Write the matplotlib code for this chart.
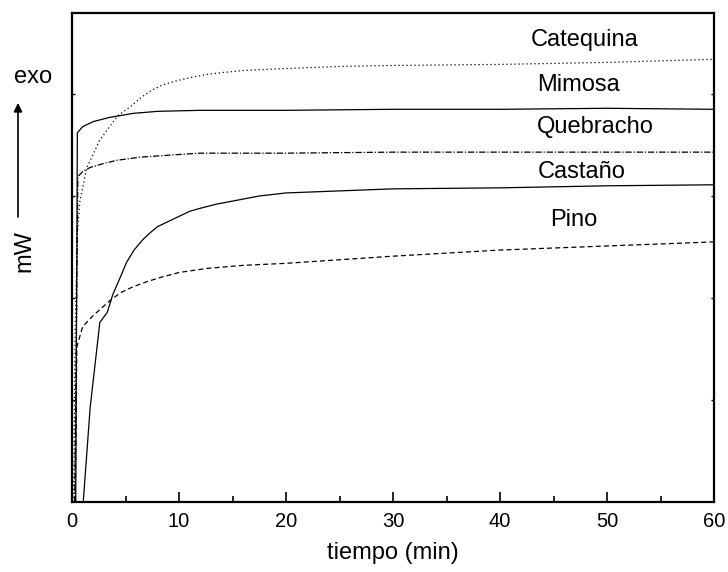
import matplotlib
matplotlib.use("Agg")
import matplotlib.pyplot as plt

plt.rcParams['font.family'] = ['Liberation Sans', 'DejaVu Sans']

# ---- data (time in min, signal in arbitrary mW units) ----
cat_t = [0.15, 0.3, 0.5, 0.75, 1.4, 2.6, 4.3, 5.4, 6.5, 7.5, 8.5, 9.8, 11, 12.5, 14, 16, 18, 20, 25, 30, 40, 50, 60]
cat_y = [0.0, 1.69, 2.64, 2.96, 3.28, 3.55, 3.79, 3.87, 3.97, 4.04, 4.09, 4.13, 4.16, 4.19, 4.21, 4.23, 4.24, 4.25, 4.27, 4.28, 4.29, 4.31, 4.34]

mim_t = [0.35, 0.5, 1.0, 2.0, 3.5, 5.7, 8, 12, 20, 30, 40, 50, 60]
mim_y = [0.0, 3.62, 3.68, 3.73, 3.77, 3.81, 3.83, 3.84, 3.84, 3.85, 3.85, 3.86, 3.85]

que_t = [0.25, 0.55, 1.0, 1.7, 3.0, 4.2, 6.3, 9, 12, 20, 30, 60]
que_y = [0.0, 3.19, 3.24, 3.28, 3.32, 3.35, 3.38, 3.40, 3.42, 3.42, 3.43, 3.43]

cas_t = [1.05, 1.7, 2.2, 2.6, 3.3, 3.8, 4.5, 5.1, 5.8, 6.6, 7.3, 8, 9, 10, 11, 12, 13.5, 15, 17.5, 20, 25, 30, 40, 50, 60]
cas_y = [0.0, 0.93, 1.39, 1.76, 1.86, 2.03, 2.20, 2.35, 2.47, 2.57, 2.64, 2.70, 2.75, 2.80, 2.85, 2.88, 2.92, 2.95, 3.00, 3.03, 3.05, 3.07, 3.08, 3.10, 3.11]

pin_t = [0.3, 0.45, 1.0, 2.0, 3.5, 4.5, 5.7, 7, 8.2, 10, 12.6, 16, 20, 30, 40, 50, 60]
pin_y = [0.0, 1.52, 1.72, 1.83, 1.97, 2.05, 2.11, 2.16, 2.20, 2.25, 2.29, 2.32, 2.34, 2.41, 2.47, 2.51, 2.55]

labels = ["Catequina", "Mimosa", "Quebracho", "Castaño", "Pino"]
label_x = [47.9, 47.3, 48.9, 47.6, 46.9]
label_y = [4.47, 4.03, 3.62, 3.18, 2.71]

xticks = [0, 10, 20, 30, 40, 50, 60]

fig = plt.figure(figsize=(7.28, 5.72), dpi=100)
ax = fig.add_axes([72/728, 70/572, (714-72)/728, (502-13)/572])

lw = 0.9
ax.plot(cat_t, cat_y, color='black', lw=lw, linestyle=(0, (1, 2.2)))
ax.plot(mim_t, mim_y, color='black', lw=lw, linestyle='-')
ax.plot(que_t, que_y, color='black', lw=lw, linestyle=(0, (5, 1.5, 1, 1.5)))
ax.plot(cas_t, cas_y, color='black', lw=lw, linestyle='-')
ax.plot(pin_t, pin_y, color='black', lw=lw, linestyle=(0, (4, 2.5)))

for lab, lx, ly in zip(labels, label_x, label_y):
    ax.text(lx, ly, lab, ha='center', va='baseline', fontsize=17)

ax.set_xlim(0, 60)
ax.set_ylim(0, (502-13)/102)
ax.set_xticks(xticks)
ax.set_xticks([5, 15, 25, 35, 45, 55], minor=True)
ax.set_yticks([1, 2, 3, 4])
ax.set_yticklabels([])
ax.tick_params(axis='x', which='major', direction='in', length=7, width=1.2,
               labelsize=14.5, pad=7, top=False)
ax.tick_params(axis='x', which='minor', direction='in', length=4, width=1.2, top=False)
ax.tick_params(axis='y', which='major', direction='in', length=2.5, width=1.0,
               left=True, right=True)
for s in ax.spines.values():
    s.set_linewidth(1.6)

ax.set_xlabel("tiempo (min)", fontsize=17, labelpad=8)

# y-axis annotation: exo, arrow, mW
fig.text(33/728, 1 - 83/572, "exo", ha='center', va='baseline', fontsize=17)
fig.text(24.5/728, 1 - 251/572, "mW", ha='center', va='center', rotation=90, fontsize=17)
fig.add_artist(matplotlib.patches.FancyArrowPatch(
    (18/728, 1 - 217/572), (18/728, 1 - 103/572), transform=fig.transFigure,
    arrowstyle='-|>,head_length=5,head_width=2.5', color='black', lw=1.2,
    shrinkA=0, shrinkB=0))

fig.savefig("out.png", dpi=100)
